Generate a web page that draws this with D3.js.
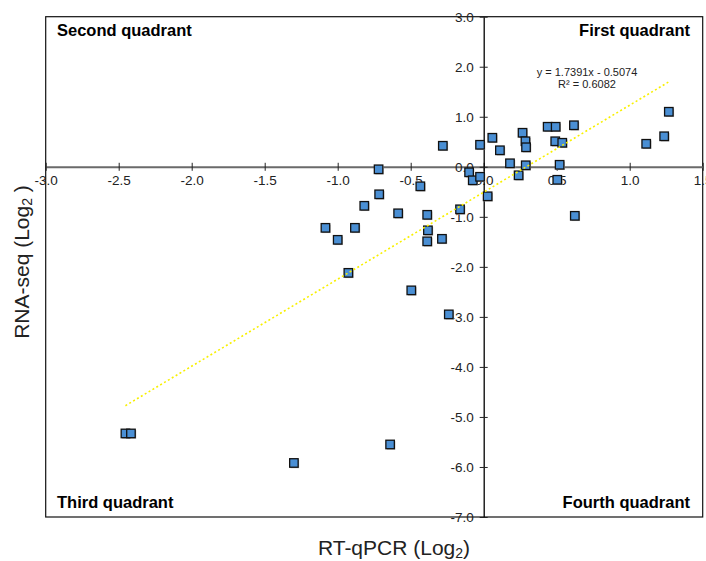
<!DOCTYPE html>
<html>
<head>
<meta charset="UTF-8">
<title>RT-qPCR vs RNA-seq</title>
<script src="https://cdn.jsdelivr.net/npm/d3@7"></script>
<style>
  body { margin: 0; background: #fff; }
  svg text { font-family: "Liberation Sans", Arial, sans-serif; }
</style>
</head>
<body>
<div id="chart"></div>
<script>
// fold changes
const rtqpcr = [-0.28, -0.025, 0.059, 0.111, 0.266, 0.286, 0.29, 0.18, 0.288, 0.239,
                0.438, 0.493, 0.49, 0.538, 0.52, 0.504, 0.618, 0.624, 1.113, 1.236,
                1.268, -0.10, -0.075, -0.025, 0.027, -0.162, -0.72, -0.434, -0.716, -0.818,
                -0.586, -0.387, -1.084, -0.882, -1.0, -0.382, -0.387, -0.286, -0.927, -0.496,
                -0.239, -2.454, -2.416, -1.30, -0.641];
const rnaseq = [0.42, 0.44, 0.58, 0.33, 0.68, 0.51, 0.39, 0.07, 0.03, -0.17,
                0.80, 0.80, 0.51, 0.48, 0.04, -0.26, 0.83, -0.98, 0.46, 0.61,
                1.10, -0.11, -0.27, -0.20, -0.59, -0.85, -0.05, -0.39, -0.55, -0.78,
                -0.93, -0.96, -1.22, -1.22, -1.46, -1.27, -1.49, -1.44, -2.12, -2.47,
                -2.95, -5.33, -5.33, -5.92, -5.55];
const xTicks = [-3.0, -2.5, -2.0, -1.5, -1.0, -0.5, 0.0, 0.5, 1.0, 1.5];
const yTicks = [3.0, 2.0, 1.0, 0.0, -1.0, -2.0, -3.0, -4.0, -5.0, -6.0, -7.0];
const slope = 1.7391, intercept = -0.5074, r2 = 0.6082;
const quadrants = ["First quadrant", "Second quadrant", "Third quadrant", "Fourth quadrant"];

const w = 706, h = 561;
const padL = 45.7, padR = 702.7, padT = 16.7, padB = 517;

const svg = d3.select("#chart").append("svg")
  .attr("width", w).attr("height", h);

const x = d3.scaleLinear().domain([-3, 1.5]).range([padL, padR]);
const y = d3.scaleLinear().domain([-7, 3]).range([padB, padT]);

// frame
svg.append("rect")
  .attr("x", padL).attr("y", padT)
  .attr("width", padR - padL).attr("height", padB - padT)
  .attr("fill", "none").attr("stroke", "#111").attr("stroke-width", 1.2);

const fmt = d => d3.format(".1f")(d).replace("−", "-");

// x axis through y = 0
const gx = svg.append("g")
  .attr("transform", `translate(0,${y(0)})`)
  .call(d3.axisBottom(x).tickValues(xTicks).tickFormat(fmt)
    .tickSizeInner(4).tickSizeOuter(0).tickPadding(5));
gx.select(".domain").attr("stroke", "#6a6a6a").attr("stroke-width", 2);
gx.selectAll(".tick line").attr("y1", -4).attr("y2", 4).attr("stroke", "#222");
gx.selectAll(".tick text").attr("font-size", 13.5).attr("fill", "#222");

// y axis through x = 0
const gy = svg.append("g")
  .attr("transform", `translate(${x(0)},0)`)
  .call(d3.axisLeft(y).tickValues(yTicks).tickFormat(fmt)
    .tickSizeInner(4).tickSizeOuter(0).tickPadding(6));
gy.select(".domain").attr("stroke", "#000").attr("stroke-width", 1.3);
gy.selectAll(".tick line").attr("x1", -4).attr("x2", 4).attr("stroke", "#222");
gy.selectAll(".tick text").attr("font-size", 13.5).attr("fill", "#222");

// quadrant labels
const qStyle = sel => sel.attr("font-size", 16.5).attr("font-weight", "bold").attr("fill", "#000");
svg.append("text").text(quadrants[1]).attr("x", 57).attr("y", 36).call(qStyle);
svg.append("text").text(quadrants[0]).attr("x", 690).attr("y", 36)
  .attr("text-anchor", "end").call(qStyle);
svg.append("text").text(quadrants[2]).attr("x", 57).attr("y", 508).call(qStyle);
svg.append("text").text(quadrants[3]).attr("x", 690).attr("y", 508)
  .attr("text-anchor", "end").call(qStyle);

// points
const pts = rtqpcr.map((d, i) => [d, rnaseq[i]]);
const s = 8.5;
svg.append("g").selectAll("rect").data(pts).enter().append("rect")
  .attr("x", d => x(d[0]) - s / 2 + 1).attr("y", d => y(d[1]) - s / 2 + 1)
  .attr("width", s).attr("height", s)
  .attr("fill", "#b5b5b5");
svg.append("g").selectAll("rect").data(pts).enter().append("rect")
  .attr("x", d => x(d[0]) - s / 2).attr("y", d => y(d[1]) - s / 2)
  .attr("width", s).attr("height", s)
  .attr("fill", "#4a8fd4").attr("stroke", "#111").attr("stroke-width", 1.3);

// linear trendline
const xr = d3.extent(rtqpcr);
svg.append("line")
  .attr("x1", x(xr[0])).attr("y1", y(slope * xr[0] + intercept))
  .attr("x2", x(xr[1])).attr("y2", y(slope * xr[1] + intercept))
  .attr("stroke", "#f8f000").attr("stroke-width", 1.6)
  .attr("stroke-dasharray", "2,2.5");

svg.append("text").text(`y = ${slope}x - ${Math.abs(intercept)}`)
  .attr("x", 587).attr("y", 76).attr("text-anchor", "middle")
  .attr("font-size", 11).attr("fill", "#222");
svg.append("text").text(`R² = ${r2}`)
  .attr("x", 587).attr("y", 88).attr("text-anchor", "middle")
  .attr("font-size", 11).attr("fill", "#222");

// axis titles
const xt = svg.append("text").attr("x", 394).attr("y", 555)
  .attr("text-anchor", "middle").attr("font-size", 21).attr("fill", "#222");
xt.append("tspan").text("RT-qPCR (Log");
xt.append("tspan").text("2").attr("font-size", 14).attr("dy", 3);
xt.append("tspan").text(")").attr("dy", -3);

const yt = svg.append("text")
  .attr("transform", "translate(29,262) rotate(-90)")
  .attr("text-anchor", "middle").attr("font-size", 21).attr("fill", "#222");
yt.append("tspan").text("RNA-seq (Log");
yt.append("tspan").text("2").attr("font-size", 14).attr("dy", 3);
yt.append("tspan").text(" )").attr("dy", -3);
</script>
</body>
</html>
